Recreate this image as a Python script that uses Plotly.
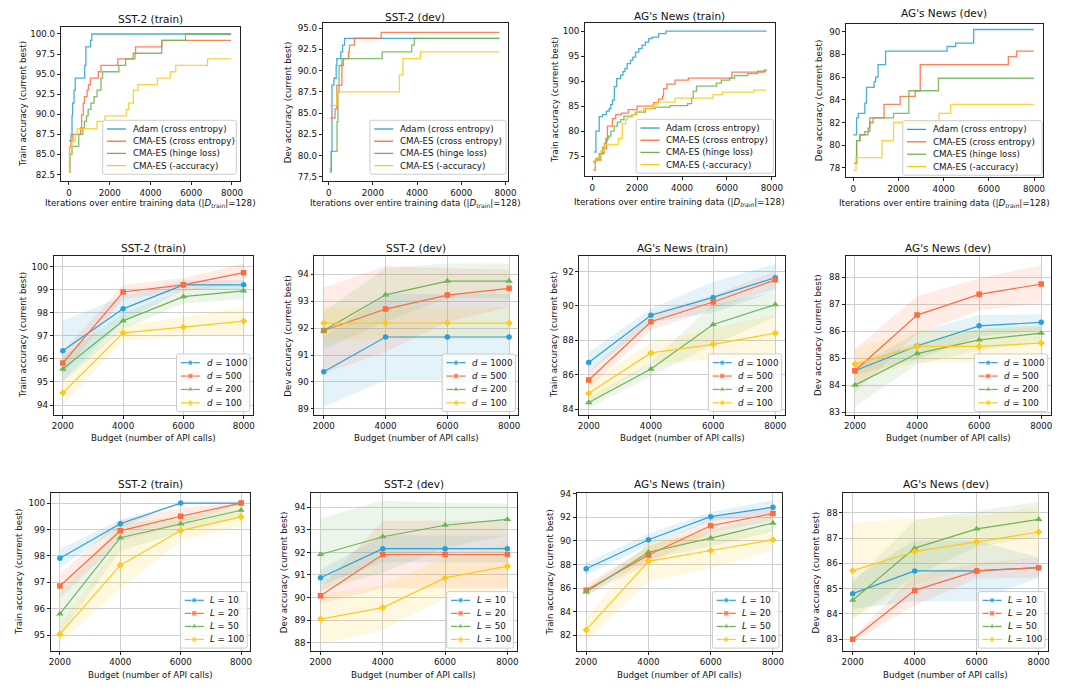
import plotly.graph_objects as go

W, H = 1083, 695
FONT = "DejaVu Sans"
COLORS = ["#2ba0d8", "#ff6b3d", "#6cb553", "#ffc919"]
FILLS = ["rgba(43,160,216,0.13)", "rgba(255,107,61,0.13)", "rgba(108,181,83,0.13)", "rgba(255,201,25,0.13)"]
SYMBOLS = ["circle", "square", "triangle-up", "diamond"]

# ---------------- Row 1: current best vs iterations ----------------
row1_titles = ["SST-2 (train)", "SST-2 (dev)", "AG's News (train)", "AG's News (dev)"]
row1_methods = ["Adam (cross entropy)", "CMA-ES (cross entropy)", "CMA-ES (hinge loss)", "CMA-ES (-accuracy)"]
row1_ylabels = ["Train accuracy (current best)", "Dev accuracy (current best)",
                "Train accuracy (current best)", "Dev accuracy (current best)"]
row1_xlabels = ["Iterations over entire training data (|<i>D</i><sub>train</sub>|=128)"] * 2 + \
               ["Iterations over entire training data (|<i>D</i><sub><i>train</i></sub>|=128)"] * 2

# SST-2 (train)
sst_tr_adam_x = [0, 100, 150, 180, 250, 310, 770, 830, 1060, 1120, 7950]
sst_tr_adam_y = [86.7, 87.5, 89.8, 91.4, 93.0, 94.5, 96.1, 98.4, 99.2, 100.0, 100.0]
sst_tr_ce_x = [0, 30, 100, 190, 570, 620, 700, 760, 890, 955, 1050, 1440, 1570, 2400, 3150, 3270, 4560, 7950]
sst_tr_ce_y = [82.8, 85.9, 86.7, 87.5, 88.3, 89.9, 91.4, 92.2, 93.0, 93.7, 94.5, 95.3, 96.1, 96.9, 97.6, 98.4, 99.2, 99.2]
sst_tr_hinge_x = [0, 50, 150, 480, 680, 760, 860, 940, 1080, 1230, 1380, 1570, 1650, 2450, 2780, 3240, 4550, 5720, 7950]
sst_tr_hinge_y = [82.8, 85.0, 86.0, 87.5, 88.3, 89.1, 89.8, 90.6, 91.4, 92.2, 93.0, 94.5, 95.3, 96.1, 96.9, 97.6, 99.2, 100.0, 100.0]
sst_tr_acc_x = [0, 30, 150, 310, 400, 1380, 1770, 2820, 2930, 3160, 3380, 4340, 4970, 5240, 6800, 7950]
sst_tr_acc_y = [82.8, 85.9, 86.7, 87.5, 88.2, 89.1, 89.8, 90.6, 91.4, 93.0, 93.7, 94.5, 95.3, 96.1, 96.9, 96.9]

# SST-2 (dev)
sst_dev_adam_x = [45, 120, 150, 240, 340, 370, 550, 630, 720, 7720]
sst_dev_adam_y = [78.1, 80.5, 88.3, 89.1, 90.6, 91.4, 92.2, 93.0, 93.8, 93.8]
sst_dev_ce_x = [75, 290, 370, 600, 670, 900, 940, 1165, 2380, 7720]
sst_dev_ce_y = [84.4, 85.5, 88.3, 90.6, 91.4, 92.2, 93.0, 93.8, 94.5, 94.5]
sst_dev_hinge_x = [30, 120, 380, 420, 470, 600, 2420, 3760, 3870, 7720]
sst_dev_hinge_y = [78.4, 80.5, 84.0, 87.5, 90.6, 91.4, 92.2, 93.0, 93.8, 93.8]
sst_dev_acc_x = [45, 370, 3200, 3360, 4150, 7720]
sst_dev_acc_y = [85.9, 87.5, 89.5, 91.4, 92.2, 92.2]

# AG's News (train)
ag_tr_adam_x = [88, 162, 309, 456, 632, 750, 823, 897, 985, 1088, 1264, 1367, 1455, 1558, 1705, 1808,
                1926, 2073, 2220, 2367, 2514, 2661, 2955, 3278, 7762]
ag_tr_adam_y = [75.8, 80.0, 82.9, 83.3, 84.0, 84.5, 85.3, 86.2, 88.9, 90.5, 91.2, 91.9, 92.5, 93.5, 94.2, 94.8,
                95.8, 96.5, 97.2, 97.8, 98.5, 98.8, 99.5, 100.0, 100.0]
ag_tr_ce_x = [44, 132, 382, 529, 632, 676, 897, 1044, 1308, 1602, 1999, 2734, 2955, 3131, 3175, 3322,
              3690, 4278, 6218, 7659, 7762]
ag_tr_ce_y = [72.2, 74.2, 75.5, 76.5, 78.0, 81.0, 82.5, 83.3, 83.6, 84.3, 85.0, 85.7, 86.4, 87.0, 88.5, 89.4,
              90.2, 90.6, 91.8, 92.2, 92.2]
ag_tr_hinge_x = [44, 162, 309, 456, 529, 603, 720, 823, 970, 1117, 1264, 1411, 1779, 1926, 2367, 2808, 3469,
                 4248, 4425, 4498, 4645, 5527, 5748, 6115, 6336, 6924, 7365, 7732, 7762]
ag_tr_hinge_y = [73.8, 74.5, 75.5, 76.7, 77.5, 78.5, 79.0, 80.0, 81.0, 81.8, 82.3, 83.0, 83.3, 83.8, 84.5, 84.8, 85.1,
                 85.5, 86.6, 88.0, 89.0, 89.6, 90.2, 90.6, 91.1, 91.5, 92.0, 92.2, 92.2]
ag_tr_acc_x = [44, 162, 382, 529, 1161, 1338, 1485, 1558, 1779, 1999, 2293, 2661, 2881, 3690, 5380, 5792, 7188, 7762]
ag_tr_acc_y = [74.0, 74.6, 76.0, 77.3, 78.5, 81.5, 82.3, 82.8, 83.3, 84.0, 84.5, 85.3, 85.8, 86.6, 87.3, 87.8, 88.2, 88.2]

# AG's News (dev)
ag_dev_adam_x = [0, 146, 219, 511, 584, 920, 990, 1095, 1430, 4150, 4530, 5330, 7990]
ag_dev_adam_y = [80.9, 82.4, 82.8, 83.7, 85.1, 85.6, 86.0, 87.1, 88.3, 88.7, 89.0, 90.2, 90.2]
ag_dev_ce_x = [30, 146, 290, 511, 730, 876, 1360, 2073, 2740, 2964, 6862, 7227, 7990]
ag_dev_ce_y = [78.4, 80.4, 80.9, 81.2, 82.0, 82.4, 83.6, 84.3, 84.8, 87.1, 87.8, 88.3, 88.3]
ag_dev_hinge_x = [30, 146, 292, 650, 730, 1781, 2460, 3767, 7990]
ag_dev_hinge_y = [78.4, 80.4, 80.9, 81.5, 82.4, 82.8, 84.8, 85.9, 85.9]
ag_dev_acc_x = [0, 120, 1270, 1781, 3796, 4307, 7990]
ag_dev_acc_y = [77.8, 78.9, 80.4, 82.0, 82.8, 83.6, 83.6]

row1_series = [
    [(sst_tr_adam_x, sst_tr_adam_y), (sst_tr_ce_x, sst_tr_ce_y), (sst_tr_hinge_x, sst_tr_hinge_y), (sst_tr_acc_x, sst_tr_acc_y)],
    [(sst_dev_adam_x, sst_dev_adam_y), (sst_dev_ce_x, sst_dev_ce_y), (sst_dev_hinge_x, sst_dev_hinge_y), (sst_dev_acc_x, sst_dev_acc_y)],
    [(ag_tr_adam_x, ag_tr_adam_y), (ag_tr_ce_x, ag_tr_ce_y), (ag_tr_hinge_x, ag_tr_hinge_y), (ag_tr_acc_x, ag_tr_acc_y)],
    [(ag_dev_adam_x, ag_dev_adam_y), (ag_dev_ce_x, ag_dev_ce_y), (ag_dev_hinge_x, ag_dev_hinge_y), (ag_dev_acc_x, ag_dev_acc_y)],
]

# ---------------- Rows 2 and 3: budget sweeps ----------------
budget = [2000, 4000, 6000, 8000]
d_labels = ["<i>d</i> = 1000", "<i>d</i> = 500", "<i>d</i> = 200", "<i>d</i> = 100"]
L_labels = ["<i>L</i> = 10", "<i>L</i> = 20", "<i>L</i> = 50", "<i>L</i> = 100"]

sst2_train_d = [[96.35, 98.17, 99.21, 99.21], [95.82, 98.9, 99.21, 99.74],
                [95.56, 97.65, 98.70, 98.95], [94.53, 97.13, 97.38, 97.64]]
sst2_train_d_std = [[1.3, 0.55, 0.2, 0.2], [0.5, 0.3, 0.3, 0.4], [0.55, 0.35, 0.3, 0.35], [0.55, 0.35, 0.4, 0.6]]
sst2_dev_d = [[90.38, 91.67, 91.67, 91.67], [91.91, 92.71, 93.23, 93.48],
              [91.91, 93.24, 93.75, 93.75], [92.19, 92.19, 92.19, 92.19]]
sst2_dev_d_std = [[1.3, 1.6, 1.6, 1.6], [1.6, 1.6, 1.0, 0.7], [0.7, 1.0, 0.65, 0.65], [0.6, 0.6, 0.6, 0.6]]
ag_train_d = [[86.71, 89.46, 90.5, 91.65], [85.69, 89.08, 90.23, 91.52],
              [84.38, 86.33, 88.92, 90.08], [84.92, 87.27, 87.77, 88.42]]
ag_train_d_std = [[0.6, 0.4, 0.9, 0.8], [0.5, 0.5, 0.4, 0.5], [0.3, 0.4, 1.2, 0.7], [0.6, 0.6, 0.9, 1.1]]
ag_dev_d = [[84.53, 85.45, 86.2, 86.33], [84.53, 86.6, 87.37, 87.75],
            [84.0, 85.17, 85.68, 85.93], [84.78, 85.44, 85.44, 85.56]]
ag_dev_d_std = [[0.15, 0.5, 0.4, 0.3], [0.8, 0.7, 0.6, 0.7], [0.8, 0.4, 0.4, 0.3], [0.6, 0.6, 0.6, 0.6]]

sst2_train_L = [[97.91, 99.22, 100.0, 100.0], [96.86, 98.95, 99.5, 100.0],
                [95.81, 98.69, 99.21, 99.73], [95.04, 97.65, 98.96, 99.48]]
sst2_train_L_std = [[0.35, 0.15, 0.0, 0.0], [0.45, 0.4, 0.3, 0.05], [0.8, 0.5, 0.3, 0.25], [0.35, 0.9, 0.4, 0.35]]
sst2_dev_L = [[90.88, 92.17, 92.17, 92.17], [90.08, 91.91, 91.91, 91.91],
              [91.91, 92.7, 93.21, 93.47], [89.04, 89.55, 90.87, 91.39]]
sst2_dev_L_std = [[0.35, 0.6, 0.6, 0.6], [0.35, 1.5, 1.5, 1.5], [1.6, 1.6, 1.0, 0.7], [1.1, 1.0, 0.9, 1.0]]
ag_train_L = [[87.65, 90.1, 92.06, 92.86], [85.82, 88.81, 91.29, 92.32],
              [85.68, 89.04, 90.24, 91.52], [82.46, 88.27, 89.19, 90.1]]
ag_train_L_std = [[0.5, 0.5, 0.4, 0.6], [0.5, 0.7, 0.6, 0.6], [0.3, 0.6, 0.7, 0.7], [1.0, 1.7, 1.5, 0.9]]
ag_dev_L = [[84.8, 85.7, 85.7, 85.83], [83.0, 84.93, 85.7, 85.83],
            [84.54, 86.6, 87.36, 87.74], [85.71, 86.46, 86.85, 87.24]]
ag_dev_L_std = [[0.6, 1.2, 1.2, 0.4], [0.1, 0.6, 0.3, 0.4], [0.7, 1.1, 0.7, 0.7], [1.9, 1.3, 1.0, 1.0]]

row23_means = [sst2_train_d, sst2_dev_d, ag_train_d, ag_dev_d, sst2_train_L, sst2_dev_L, ag_train_L, ag_dev_L]
row23_stds = [sst2_train_d_std, sst2_dev_d_std, ag_train_d_std, ag_dev_d_std,
              sst2_train_L_std, sst2_dev_L_std, ag_train_L_std, ag_dev_L_std]
row23_ylabels = ["Train accuracy (current best)", "Dev accuracy (current best)"] * 4
budget_label = "Budget (number of API calls)"

# ---------------- Ticks ----------------
row1_xticks = [0, 2000, 4000, 6000, 8000]
budget_ticks = [2000, 4000, 6000, 8000]
yticks = [
    [82.5, 85.0, 87.5, 90.0, 92.5, 95.0, 97.5, 100.0],
    [77.5, 80.0, 82.5, 85.0, 87.5, 90.0, 92.5, 95.0],
    [75, 80, 85, 90, 95, 100],
    [78, 80, 82, 84, 86, 88, 90],
    [94, 95, 96, 97, 98, 99, 100],
    [89, 90, 91, 92, 93, 94],
    [84, 86, 88, 90, 92],
    [83, 84, 85, 86, 87, 88],
    [95, 96, 97, 98, 99, 100],
    [88, 89, 90, 91, 92, 93, 94],
    [82, 84, 86, 88, 90, 92, 94],
    [83, 84, 85, 86, 87, 88],
]
ytick_fmt = ["{:.1f}", "{:.1f}"] + ["{:d}"] * 10

# ---------------- Layout geometry (pixels) ----------------
boxes = [  # left, right, top, bottom
    (59.3, 240.0, 23.3, 179.0), (324.0, 510.7, 19.0, 179.0), (589.0, 780.7, 19.0, 174.0), (852.7, 1051.3, 20.0, 175.0),
    (52.3, 253.3, 254.0, 414.3), (315.7, 521.7, 254.0, 414.3), (583.3, 790.7, 254.0, 414.3), (852.3, 1059.3, 254.0, 414.3),
    (49.3, 250.7, 493.3, 652.7), (312.3, 520.0, 493.3, 652.7), (580.7, 788.3, 493.3, 652.7), (850.0, 1056.7, 493.3, 652.7),
]
xranges = [[-405, 8372], [-269, 8092], [-323, 8129], [-321, 8380]] + [[1700, 8300]] * 8
yranges = [[81.63, 100.86], [76.96, 95.62], [70.9, 101.65], [77.15, 90.7],
           [93.58, 100.47], [88.78, 94.69], [83.67, 92.92], [82.9, 88.8],
           [94.4, 100.38], [87.62, 94.64], [80.67, 94.06], [82.53, 88.78]]
title_y = [15, 13.3, 12.3, 9.5] + [245.7] * 4 + [484.5] * 4
xlabel_y = [201.5, 201.5, 196.5 + 4, 197.5 + 4] + [438] * 4 + [676.5] * 4
ylabel_x = [21, 289, 558, 825, 21, 289.3, 558.3, 825, 17, 285, 554, 822.7]
legend_boxes = [
    (101.7, 236.7, 117.3, 171.7), (371.7, 509.3, 117.3, 171.7), (640.7, 779.3, 116.3, 170.7), (910.0, 1050.7, 117.7, 172.7),
    (176.3, 250.3, 353.0, 411.0), (444.7, 518.7, 353.0, 411.0), (713.7, 787.7, 353.0, 411.0), (982.3, 1056.3, 353.0, 411.0),
    (180.3, 247.7, 592.7, 649.7), (449.3, 516.7, 592.7, 649.7), (717.7, 785.0, 592.7, 649.7), (986.3, 1053.7, 592.7, 649.7),
]

fig = go.Figure()
layout = dict(
    width=W, height=H, margin=dict(l=0, r=0, t=0, b=0),
    paper_bgcolor="white", plot_bgcolor="rgba(0,0,0,0)", showlegend=False,
    font=dict(family=FONT, size=8.7, color="#111"),
)
annotations = []
shapes = []


def px(x):
    return x / W


def py(y):
    return 1 - y / H


for k in range(12):
    i = k + 1
    L, R, T, B = boxes[k]
    xa = "x" if i == 1 else f"x{i}"
    ya = "y" if i == 1 else f"y{i}"
    grid = k >= 4
    xt = row1_xticks if k < 4 else budget_ticks
    common = dict(showline=True, linecolor="#222", linewidth=0.9, mirror=True, ticks="outside",
                  ticklen=3, tickwidth=0.9, tickcolor="#222", zeroline=False,
                  tickfont=dict(family=FONT, size=8.7, color="#111"),
                  showgrid=grid, gridcolor="#cfcfcf", gridwidth=1, fixedrange=True)
    layout["xaxis" if i == 1 else f"xaxis{i}"] = dict(
        common, domain=[px(L), px(R)], anchor=ya, range=xranges[k],
        tickmode="array", tickvals=xt, ticktext=[str(v) for v in xt])
    layout["yaxis" if i == 1 else f"yaxis{i}"] = dict(
        common, domain=[py(B), py(T)], anchor=xa, range=yranges[k],
        tickmode="array", tickvals=yticks[k], ticktext=[ytick_fmt[k].format(v) for v in yticks[k]])

    if k < 4:
        for s, (xs, ys) in enumerate(row1_series[k]):
            fig.add_trace(go.Scatter(x=xs, y=ys, mode="lines", line=dict(color=COLORS[s], width=1.3, shape="hv"),
                                     opacity=0.85, xaxis=xa, yaxis=ya, hoverinfo="skip"))
        title = row1_titles[k]
        xlabel = row1_xlabels[k]
        ylabel = row1_ylabels[k]
    else:
        means = row23_means[k - 4]
        stds = row23_stds[k - 4]
        for s in range(4):
            up = [m + d for m, d in zip(means[s], stds[s])]
            lo = [m - d for m, d in zip(means[s], stds[s])]
            fig.add_trace(go.Scatter(x=budget + budget[::-1], y=up + lo[::-1], fill="toself",
                                     fillcolor=FILLS[s], line=dict(width=0), mode="lines",
                                     xaxis=xa, yaxis=ya, hoverinfo="skip"))
        for s in range(4):
            fig.add_trace(go.Scatter(x=budget, y=means[s], mode="lines+markers",
                                     line=dict(color=COLORS[s], width=1.2),
                                     marker=dict(symbol=SYMBOLS[s], size=5.5 if s != 2 else 6.5, color=COLORS[s]),
                                     xaxis=xa, yaxis=ya, hoverinfo="skip"))
        title = row1_titles[(k - 4) % 4]
        xlabel = budget_label
        ylabel = row23_ylabels[k - 4]

    annotations.append(dict(text=title, x=px((L + R) / 2), y=py(title_y[k]), xref="paper", yref="paper",
                            xanchor="center", yanchor="middle", showarrow=False,
                            font=dict(family=FONT, size=10.5, color="#111")))
    annotations.append(dict(text=xlabel, x=px((L + R) / 2), y=py(xlabel_y[k]), xref="paper", yref="paper",
                            xanchor="center", yanchor="middle", showarrow=False,
                            font=dict(family=FONT, size=8.7, color="#111")))
    annotations.append(dict(text=ylabel, x=px(ylabel_x[k]), y=py((T + B) / 2), xref="paper", yref="paper",
                            xanchor="center", yanchor="middle", showarrow=False, textangle=-90,
                            font=dict(family=FONT, size=8.7, color="#111")))

# ---------------- Hand-drawn legends on a full-page overlay axis ----------------
layout["xaxis13"] = dict(domain=[0, 1], range=[0, W], visible=False, anchor="y13", fixedrange=True)
layout["yaxis13"] = dict(domain=[0, 1], range=[H, 0], visible=False, anchor="x13", fixedrange=True)

mk_x, mk_y, mk_sym, mk_col, mk_size = [], [], [], [], []
for k in range(12):
    l, r, t, b = legend_boxes[k]
    rad = 2.0
    path = (f"M{l + rad},{t} L{r - rad},{t} Q{r},{t} {r},{t + rad} L{r},{b - rad} Q{r},{b} {r - rad},{b} "
            f"L{l + rad},{b} Q{l},{b} {l},{b - rad} L{l},{t + rad} Q{l},{t} {l + rad},{t} Z")
    shapes.append(dict(type="path", path=path, xref="x13", yref="y13", layer="below",
                       fillcolor="rgba(255,255,255,0.82)", line=dict(color="#cccccc", width=1)))
    n = 4
    pitch = (b - t - 17.5) / (n - 1)
    labels = row1_methods if k < 4 else (d_labels if k < 8 else L_labels)
    for s in range(n):
        yc = t + 8.8 + s * pitch
        shapes.append(dict(type="line", xref="x13", yref="y13", layer="below",
                           x0=l + 4.3, x1=l + 23.6, y0=yc, y1=yc,
                           line=dict(color=COLORS[s], width=1.3 if k < 4 else 1.2)))
        if k >= 4:
            mk_x.append(l + 14)
            mk_y.append(yc)
            mk_sym.append(SYMBOLS[s])
            mk_col.append(COLORS[s])
            mk_size.append(5.5 if s != 2 else 6.5)
        annotations.append(dict(text=labels[s], x=px(l + 28.3), y=py(yc), xref="paper", yref="paper",
                                xanchor="left", yanchor="middle", showarrow=False,
                                font=dict(family=FONT, size=8.7, color="#111")))

fig.add_trace(go.Scatter(x=mk_x, y=mk_y, mode="markers", xaxis="x13", yaxis="y13", hoverinfo="skip",
                         marker=dict(symbol=mk_sym, color=mk_col, size=mk_size)))

layout["annotations"] = annotations
layout["shapes"] = shapes
fig.update_layout(**layout)
fig.write_html("out.html")
